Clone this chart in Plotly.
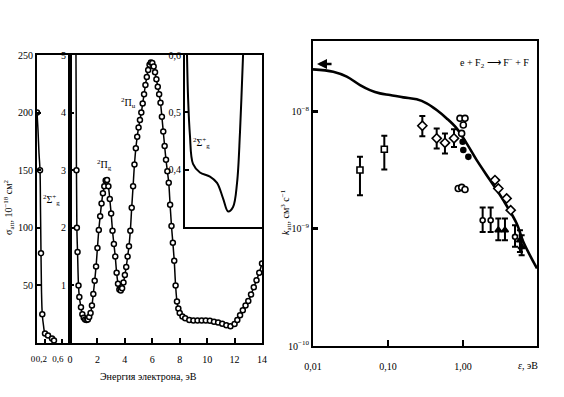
import numpy as np
import plotly.graph_objects as go

W, H = 564, 397
FONT = "Liberation Serif"

# ---------------- Left panel: narrow part (0 - 0.8 eV), scale 0-250 ----------------
narrow_E = [0.0, 0.024, 0.048, 0.073, 0.085, 0.097, 0.109, 0.128, 0.158, 0.194, 0.267, 0.364, 0.412, 0.46]
narrow_sigma = [200, 185, 165, 150, 115, 78, 45, 25, 15, 8.3, 6.5, 4.0, 2.2, 1.5]
narrow_mark_E = [0.0, 0.073, 0.097, 0.128, 0.194, 0.267, 0.364, 0.412]
narrow_mark_sigma = [200, 150, 78, 25, 8.3, 6.5, 4.0, 2.2]
narrow_ticks = [0, 0.2, 0.6]
narrow_ticktext = ["0", "0,2", "0,6"]
narrow_yticks = [50, 100, 150, 200, 250]

# ---------------- Left panel: main part (0 - 14 eV), scale 0-5 ----------------
main_E = [0.43, 0.47, 0.50, 0.55, 0.62, 0.68, 0.8, 0.9, 1.0, 1.1, 1.2, 1.3, 1.4, 1.5, 1.6, 1.7, 1.8, 1.9,
          2.0, 2.1, 2.2, 2.3, 2.4, 2.5, 2.6, 2.7, 2.8, 2.9, 3.0, 3.1, 3.2, 3.3, 3.4, 3.5, 3.6, 3.7, 3.8,
          3.9, 4.0, 4.1, 4.2, 4.3, 4.4, 4.5, 4.6, 4.7, 4.8, 4.9, 5.0, 5.1, 5.2, 5.3, 5.4, 5.5, 5.6, 5.7,
          5.8, 5.9, 6.0, 6.1, 6.2, 6.3, 6.4, 6.5, 6.6, 6.7, 6.8, 6.9, 7.0, 7.1, 7.2, 7.3, 7.4, 7.5, 7.6,
          7.7, 7.8, 7.9, 8.0, 8.2, 8.4, 8.7, 9.0, 9.3, 9.6, 9.9, 10.2, 10.5, 10.8, 11.1, 11.4, 11.7,
          12.0, 12.2, 12.4, 12.6, 12.8, 13.0, 13.2, 13.4, 13.6, 13.8, 14.0]
main_val = [5.3, 3.0, 2.0, 1.58, 1.0, 0.8, 0.62, 0.5, 0.44, 0.41, 0.40, 0.41, 0.45, 0.52, 0.65, 0.85, 1.08, 1.33,
            1.65, 1.96, 2.2, 2.42, 2.6, 2.72, 2.82, 2.83, 2.72, 2.5, 2.25, 1.95, 1.72, 1.5, 1.22, 1.03, 0.93, 0.91, 0.95,
            1.05, 1.18, 1.32, 1.5, 1.68, 1.95, 2.35, 2.72, 3.1, 3.38, 3.58, 3.74, 3.87, 4.0, 4.16, 4.32, 4.48, 4.62, 4.74,
            4.83, 4.87, 4.86, 4.8, 4.7, 4.58, 4.45, 4.32, 4.17, 3.93, 3.67, 3.42, 3.18, 2.98, 2.78, 2.4, 2.03, 1.74, 1.43,
            1.0, 0.72, 0.6, 0.52, 0.46, 0.43, 0.40, 0.39, 0.39, 0.39, 0.39, 0.385, 0.37, 0.355, 0.335, 0.31, 0.29,
            0.33, 0.40, 0.48, 0.57, 0.65, 0.73, 0.84, 0.97, 1.09, 1.22, 1.38]
main_xticks = [0, 2, 4, 6, 8, 10, 12, 14]
main_yticks = [1, 2, 3, 4, 5]

# ---------------- Left panel: inset (zoom on 0.3-0.6) ----------------
inset_E = [8.10, 8.13, 8.2, 8.32, 8.52, 8.97, 9.62, 10.08, 10.47, 10.8, 11.12, 11.38, 11.57, 11.77, 11.85]
inset_val = [0.65, 0.6, 0.525, 0.46, 0.41, 0.395, 0.388, 0.377, 0.35, 0.327, 0.335, 0.377, 0.465, 0.6, 0.65]
inset_yticks = [0.4, 0.5, 0.6]
inset_ytext = ["0,4", "0,5", "0,6"]

# ---------------- Right panel: attachment rate constant ----------------
rate_E = [0.01, 0.0186, 0.0282, 0.0424, 0.0575, 0.0782, 0.1064, 0.160, 0.2415, 0.328, 0.4457,
          0.607, 0.824, 1.119, 1.524, 2.291, 3.443, 5.2, 6.37, 9.7]
rate_k = [2.301e-8, 2.198e-8, 1.995e-8, 1.690e-8, 1.531e-8, 1.435e-8, 1.390e-8, 1.327e-8, 1.276e-8,
          1.180e-8, 1.035e-8, 8.77e-9, 7.21e-9, 5.37e-9, 3.86e-9, 2.61e-9, 1.76e-9, 1.11e-9, 7.76e-10, 4.59e-10]

sq_E = [0.0423, 0.0893]
sq_k = [3.18e-9, 4.78e-9]
sq_hi = [4.12e-9, 6.24e-9]
sq_lo = [1.94e-9, 3.21e-9]

dia_err_E = [0.287, 0.446, 0.575, 0.759]
dia_err_k = [7.59e-9, 5.93e-9, 5.43e-9, 5.93e-9]
dia_err_hi = [9.19e-9, 7.21e-9, 6.53e-9, 7.08e-9]
dia_err_lo = [6.19e-9, 4.86e-9, 4.41e-9, 5.01e-9]

circ_E = [0.912, 1.064, 1.01, 0.96, 0.865, 0.962, 1.064]
circ_k = [8.78e-9, 8.78e-9, 7.7e-9, 6.53e-9, 2.21e-9, 2.26e-9, 2.17e-9]

fcirc_E = [0.99, 1.01, 1.18]
fcirc_k = [5.55e-9, 4.71e-9, 4.12e-9]

dia_E = [2.67, 2.96, 3.82, 4.33]
dia_k = [2.61e-9, 2.21e-9, 1.82e-9, 1.445e-9]

circ_err_E = [1.83, 2.34, 4.94]
circ_err_k = [1.186e-9, 1.186e-9, 0.855e-9]
circ_err_hi = [1.524e-9, 1.524e-9, 1.076e-9]
circ_err_lo = [0.942e-9, 0.942e-9, 0.702e-9]

tri_E = [2.96, 3.63, 5.75, 6.06]
tri_k = [0.975e-9, 0.975e-9, 0.80e-9, 0.702e-9]
tri_hi = [1.228e-9, 1.228e-9, 0.975e-9, 0.883e-9]
tri_lo = [0.80e-9, 0.80e-9, 0.635e-9, 0.596e-9]

rate_xticks = [0.01, 0.1, 1.0]
rate_xtext = ["0,01", "0,10", "1,00"]
rate_yticks = [1e-10, 1e-9, 1e-8]
rate_ytext = ["10<sup>−10</sup>", "10<sup>−9</sup>", "10<sup>−8</sup>"]

arrow_head_E, arrow_tail_E, arrow_k = 0.0113, 0.0185, 2.56e-8


def px(x):
    return x / W


def py(y):
    return 1 - y / H


fig = go.Figure()

open_marker = dict(symbol="circle", size=5, color="white", line=dict(color="black", width=1.5))

fig.add_trace(go.Scatter(x=narrow_E, y=narrow_sigma, mode="lines", line=dict(color="black", width=1.5, shape="spline"),
                         xaxis="x", yaxis="y", showlegend=False))
fig.add_trace(go.Scatter(x=narrow_mark_E, y=narrow_mark_sigma, mode="markers", marker=open_marker,
                         xaxis="x", yaxis="y", showlegend=False))
fig.add_trace(go.Scatter(x=main_E, y=main_val, mode="lines+markers", line=dict(color="black", width=1.5, shape="spline"),
                         marker=open_marker, xaxis="x2", yaxis="y2", showlegend=False))
fig.add_trace(go.Scatter(x=inset_E, y=inset_val, mode="lines", line=dict(color="black", width=2, shape="spline"),
                         xaxis="x3", yaxis="y3", showlegend=False))

# right panel
fig.add_trace(go.Scatter(x=rate_E, y=rate_k, mode="lines", line=dict(color="black", width=2.6, shape="spline"),
                         xaxis="x4", yaxis="y4", showlegend=False))


def err(k, hi, lo):
    return dict(type="data", symmetric=False,
                array=[h - v for h, v in zip(hi, k)], arrayminus=[v - l for v, l in zip(k, lo)],
                color="black", thickness=2, width=3)


def mk(symbol, fill, size=6):
    return dict(symbol=symbol, size=size, color=fill, line=dict(color="black", width=1.6))


fig.add_trace(go.Scatter(x=sq_E, y=sq_k, mode="markers", marker=mk("square", "white"),
                         error_y=err(sq_k, sq_hi, sq_lo), xaxis="x4", yaxis="y4", showlegend=False))
fig.add_trace(go.Scatter(x=dia_err_E, y=dia_err_k, mode="markers", marker=mk("diamond", "white", 7),
                         error_y=err(dia_err_k, dia_err_hi, dia_err_lo), xaxis="x4", yaxis="y4", showlegend=False))
fig.add_trace(go.Scatter(x=circ_E, y=circ_k, mode="markers", marker=mk("circle", "white"),
                         xaxis="x4", yaxis="y4", showlegend=False))
fig.add_trace(go.Scatter(x=fcirc_E, y=fcirc_k, mode="markers", marker=mk("circle", "black", 5),
                         xaxis="x4", yaxis="y4", showlegend=False))
fig.add_trace(go.Scatter(x=dia_E, y=dia_k, mode="markers", marker=mk("diamond", "white", 7),
                         xaxis="x4", yaxis="y4", showlegend=False))
fig.add_trace(go.Scatter(x=circ_err_E, y=circ_err_k, mode="markers", marker=mk("circle", "white", 5),
                         error_y=err(circ_err_k, circ_err_hi, circ_err_lo), xaxis="x4", yaxis="y4", showlegend=False))
fig.add_trace(go.Scatter(x=tri_E, y=tri_k, mode="markers", marker=mk("triangle-up", "black", 6),
                         error_y=err(tri_k, tri_hi, tri_lo), xaxis="x4", yaxis="y4", showlegend=False))

tf = dict(family=FONT, size=10, color="black")
frame = dict(showline=True, mirror=True, linecolor="black", linewidth=2, showgrid=False, zeroline=False,
             ticks="inside", tickcolor="black", tickfont=tf, automargin=False, tickangle=0,
             ticklabeloverflow="allow")

fig.update_layout(
    width=W, height=H, margin=dict(l=0, r=0, t=0, b=0, pad=0),
    paper_bgcolor="white", plot_bgcolor="white",
    font=dict(family=FONT, size=10, color="black"),
    xaxis=dict(frame, domain=[px(37), px(70)], range=[0, 0.8], anchor="y",
               tickvals=narrow_ticks, ticktext=narrow_ticktext, ticklen=4, tickwidth=1.5,
               tickfont=dict(family=FONT, size=9, color="black"),
               ticklabelshift=-4, ticklabelstandoff=6),
    yaxis=dict(frame, domain=[py(343), py(55)], range=[0, 250], anchor="x",
               tickvals=narrow_yticks, ticklen=4, tickwidth=2),
    xaxis2=dict(frame, domain=[px(70), px(262)], range=[0, 14], anchor="y2",
                tickvals=main_xticks, ticklen=5, tickwidth=1.5, ticklabelstandoff=6),
    yaxis2=dict(frame, domain=[py(343), py(55)], range=[0, 5], anchor="x2",
                tickvals=main_yticks, ticklen=4, tickwidth=2),
    xaxis3=dict(frame, domain=[px(185), px(262)], range=[8, 13], anchor="y3",
                showticklabels=False, ticks=""),
    yaxis3=dict(frame, domain=[py(227), py(55)], range=[0.3, 0.6], anchor="x3",
                tickvals=inset_yticks, ticktext=inset_ytext, ticklen=4, tickwidth=2),
    xaxis4=dict(frame, type="log", domain=[px(313), px(537)], range=[-2, 0.987], anchor="y4",
                tickvals=rate_xticks, ticktext=rate_xtext, ticklen=6, tickwidth=2, ticklabelstandoff=10),
    yaxis4=dict(frame, type="log", domain=[py(346), py(41)], range=[-10, -7.396], anchor="x4",
                tickvals=rate_yticks, ticktext=rate_ytext, ticklen=5, tickwidth=3),
)

ann = dict(xref="paper", yref="paper", showarrow=False, xanchor="center", yanchor="middle",
           font=dict(family=FONT, size=10, color="black"))
labels = [
    (148, 376, "Энергия электрона, эВ", 0),
    (9, 207, "σ<sub>att</sub>, 10<sup>−18</sup> см<sup>2</sup>", -90),
    (286, 212, "<i>k</i><sub>att</sub>, см<sup>3</sup> с<sup>−1</sup>", -90),
    (528, 365, "<i>ε</i>, эВ", 0),
    (494, 63, "e + F<sub>2</sub> ⟶ F<sup>−</sup> + F", 0),
    (51, 200, "<sup>2</sup>Σ<sup>+</sup><sub>g</sub>", 0),
    (104, 165, "<sup>2</sup>Π<sub>g</sub>", 0),
    (128, 103, "<sup>2</sup>Π<sub>u</sub>", 0),
    (201, 143, "<sup>2</sup>Σ<sup>+</sup><sub>g</sub>", 0),
]
for x, y, t, a in labels:
    fig.add_annotation(dict(ann, x=px(x), y=py(y), text=t, textangle=a))

fig.add_annotation(x=np.log10(arrow_head_E), y=np.log10(arrow_k), ax=np.log10(arrow_tail_E), ay=np.log10(arrow_k),
                   xref="x4", yref="y4", axref="x4", ayref="y4", showarrow=True, text="",
                   arrowhead=2, arrowsize=0.8, arrowwidth=2.5, arrowcolor="black")

fig.write_html("out.html", config={"displayModeBar": False},
               post_script="document.body.style.margin='0';")
